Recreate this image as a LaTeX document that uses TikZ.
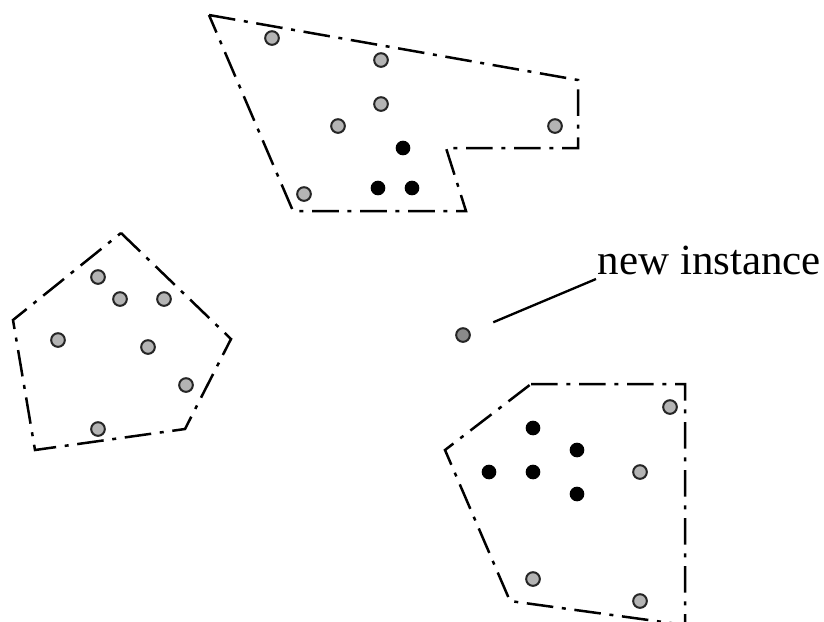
\documentclass[tikz,border=0pt]{standalone}
\usepackage{fontspec}
\setmainfont{Liberation Serif}
\usepackage{tikz}
\usetikzlibrary{positioning,calc}
\definecolor{DotGray}{HTML}{B4B4B4}
\definecolor{NewGray}{HTML}{8A8A8A}

\begin{document}
\begin{tikzpicture}[x=0.3pt, y=-0.3pt,
  hull/.style={line width=0.75pt, dash pattern=on 8pt off 2.6pt on 1.2pt off 2.6pt, line join=miter},
  inst/.style={circle, draw=black!85, line width=0.6pt, fill=DotGray, inner sep=0pt, minimum size=4.1pt},
  darkinst/.style={circle, fill=black, inner sep=0pt, minimum size=4.4pt},
  newinst/.style={inst, fill=NewGray},
  lbl/.style={inner sep=0pt, font=\fontsize{12.9}{15}\selectfont}]
\useasboundingbox (0,0) rectangle (824,621);
% cluster at the top
\draw[hull] (209,15) -- (578,80) -- (578,148) -- (446,148) -- (466,211) -- (293,211) -- cycle;
\foreach \i/\p in {1/{(272,38)},2/{(381,60)},3/{(381,104)},4/{(338,126)},5/{(555,126)},6/{(304,194)}}
  \node[inst] (t\i) at \p {};
\foreach \i/\p in {1/{(403,148)},2/{(378,188)},3/{(412,188)}}
  \node[darkinst] (tb\i) at \p {};
% cluster on the left
\draw[hull] (121,233) -- (231,339) -- (185,429) -- (35,450) -- (13,320) -- cycle;
\foreach \i/\p in {1/{(98,277)},2/{(120,299)},3/{(164,299)},4/{(58,340)},5/{(148,347)},6/{(186,385)},7/{(98,429)}}
  \node[inst] (l\i) at \p {};
% cluster at the bottom right
\draw[hull] (531,384) -- (685,384) -- (685,625) -- (510,601) -- (445,450) -- cycle;
\foreach \i/\p in {1/{(670,407)},2/{(640,472)},3/{(533,579)},4/{(640,601)}}
  \node[inst] (r\i) at \p {};
\foreach \i/\p in {1/{(533,428)},2/{(577,450)},3/{(489,472)},4/{(533,472)},5/{(577,494)}}
  \node[darkinst] (rb\i) at \p {};
% the new instance
\node[newinst] (new) at (463,335) {};
\node[lbl, anchor=base west] (newlbl) at (597,274) {new instance};
\coordinate (tip) at (596,279);
\draw[line width=0.7pt, shorten <=7.5pt] (new) -- (tip);
\end{tikzpicture}
\end{document}
